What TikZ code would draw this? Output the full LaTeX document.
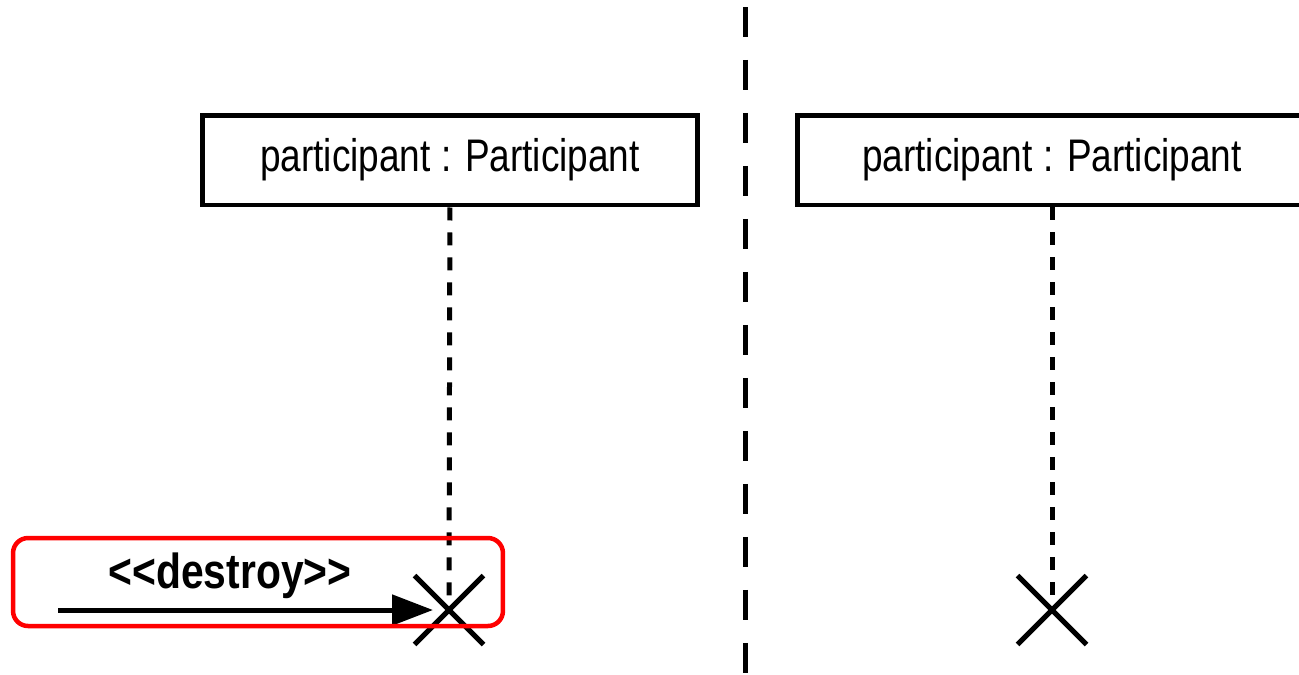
\documentclass[tikz,border=0pt]{standalone}
\usepackage{fontspec}
\setmainfont{Liberation Sans}
\newfontfamily\narrowfont[FakeStretch=0.81]{Liberation Sans}
\newfontfamily\msgfont[FakeStretch=0.83]{Liberation Sans}
\usetikzlibrary{arrows.meta,shapes.misc}

\begin{document}
\begin{tikzpicture}[x=0.02cm,y=-0.02cm,
    obj/.style={draw,line width=0.1cm,minimum width=9.9cm,minimum height=1.8cm,
      inner sep=0pt,font=\narrowfont\fontsize{26}{30}\selectfont},
    life/.style={line width=0.1cm,dash pattern=on 0.26cm off 0.24cm},
    kill/.style={draw,cross out,line width=0.1cm,minimum size=1.28cm,inner sep=0pt}]
  \useasboundingbox (0,0) rectangle (1299,674);
  % boundary between the two cases
  \draw [line width=0.1cm,dash pattern=on 0.6cm off 0.46cm,dash phase=0.92cm] (745,0) -- (745,674);
  \node [obj] (p1) at (450,160) {participant : Participant};
  \node [obj,minimum width=10.2cm] (p2) at (1052,160) {participant : Participant};
  \node [kill] (x1) at (449,610) {};
  \node [kill] (x2) at (1052,610) {};
  \draw [life] (p1) -- (x1.center);
  \draw [life] (p2) -- (x2.center);
  % destroy message
  \coordinate (src) at (58,610);
  \draw [line width=0.1cm,-{Triangle[length=0.82cm,width=0.6cm]},shorten >=0.32cm] (src) -- (x1.center);
  \node (msg) [anchor=base,font=\msgfont\bfseries\fontsize{28}{32}\selectfont] at (230,588)
    {\textless\textless destroy\textgreater\textgreater};
  \node (hl) [draw=red,line width=0.09cm,rounded corners=0.3cm,minimum width=9.8cm,minimum height=1.76cm] at (258,582) {};
\end{tikzpicture}
\end{document}
